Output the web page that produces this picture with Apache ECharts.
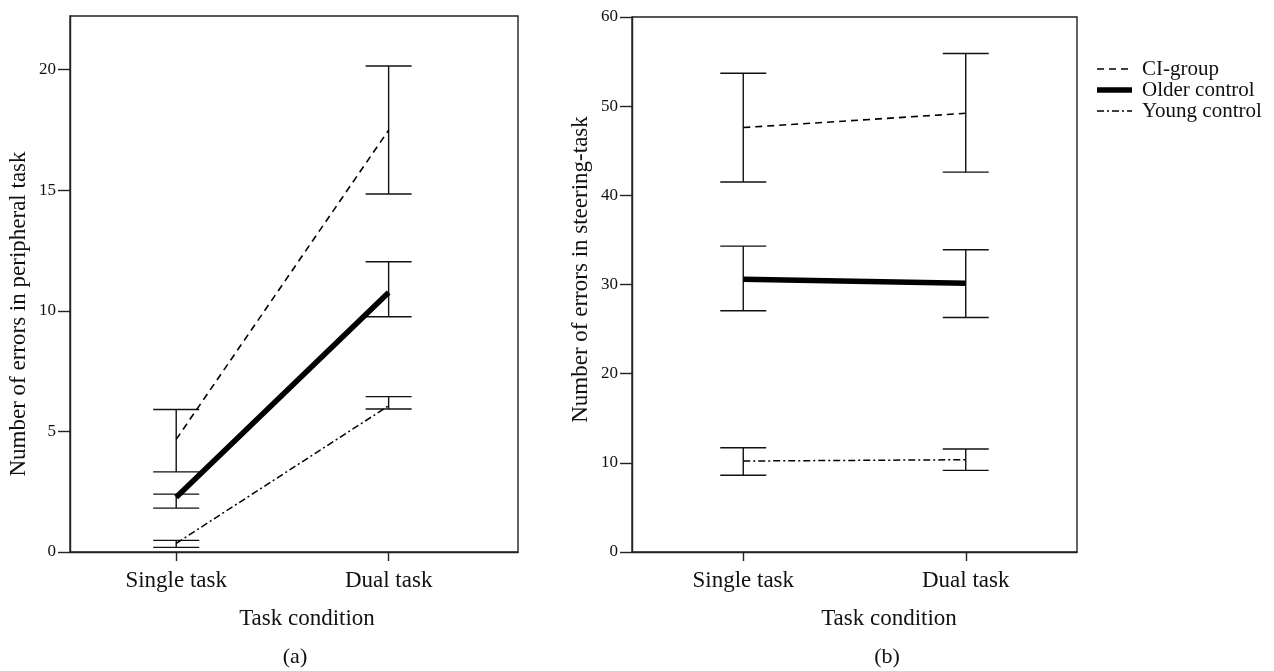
<!DOCTYPE html>
<html>
<head>
<meta charset="utf-8">
<script src="https://cdn.jsdelivr.net/npm/echarts@6/dist/echarts.min.js"></script>
<style>
html,body{margin:0;padding:0;background:#fff;}
#c{width:1274px;height:671px;}
</style>
</head>
<body>
<div id="c"></div>
<script>
const categories = ['Single task', 'Dual task'];
const groups = ['CI-group', 'Older control', 'Young control'];
const xPos = [1, 2];

// Panel (a): peripheral task errors
const aCIMean = [4.67, 17.49];
const aCIHigh = [5.91, 20.15];
const aCILow = [3.32, 14.84];
const aOlderMean = [2.27, 10.76];
const aOlderHigh = [2.40, 12.03];
const aOlderLow = [1.82, 9.75];
const aYoungMean = [0.36, 6.06];
const aYoungHigh = [0.48, 6.44];
const aYoungLow = [0.19, 5.93];
const aTicks = [0, 5, 10, 15, 20];

// Panel (b): steering task errors
const bCIMean = [47.6, 49.2];
const bCIHigh = [53.7, 55.9];
const bCILow = [41.5, 42.6];
const bOlderMean = [30.6, 30.15];
const bOlderHigh = [34.3, 33.9];
const bOlderLow = [27.05, 26.3];
const bYoungMean = [10.2, 10.35];
const bYoungHigh = [11.7, 11.55];
const bYoungLow = [8.6, 9.15];
const bTicks = [0, 10, 20, 30, 40, 50, 60];

const FONT = '"Liberation Serif", "Times New Roman", serif';
const AX = '#222';

const styles = {
  'CI-group': { width: 1.6, type: [7, 5] },
  'Older control': { width: 5.5, type: 'solid' },
  'Young control': { width: 1.5, type: [7, 3, 2, 3] }
};

function pts(means) { return xPos.map((x, i) => [x, means[i]]); }
function bars(lows, highs) { return xPos.map((x, i) => [x, lows[i], highs[i]]); }

function lineSeries(name, means, idx) {
  return {
    type: 'line', name: name, xAxisIndex: idx, yAxisIndex: idx,
    data: pts(means), symbol: 'none', silent: true, z: 3,
    lineStyle: { color: '#000', width: styles[name].width, type: styles[name].type, cap: 'butt' },
    itemStyle: { color: '#000' }
  };
}

function errSeries(lows, highs, idx) {
  return {
    type: 'custom', xAxisIndex: idx, yAxisIndex: idx, silent: true, z: 2,
    data: bars(lows, highs),
    renderItem: function (params, api) {
      const lo = api.coord([api.value(0), api.value(1)]);
      const hi = api.coord([api.value(0), api.value(2)]);
      const hw = 23;
      const st = { stroke: '#111', lineWidth: 1.4 };
      return {
        type: 'group',
        children: [
          { type: 'line', shape: { x1: lo[0], y1: lo[1], x2: hi[0], y2: hi[1] }, style: st },
          { type: 'line', shape: { x1: lo[0] - hw, y1: lo[1], x2: lo[0] + hw, y2: lo[1] }, style: st },
          { type: 'line', shape: { x1: hi[0] - hw, y1: hi[1], x2: hi[0] + hw, y2: hi[1] }, style: st }
        ]
      };
    }
  };
}

function xAxisDef(idx, max, namePad) {
  return {
    type: 'value', gridIndex: idx, min: 0.5, max: max,
    name: 'Task condition', nameLocation: 'middle', nameGap: 55,
    nameTextStyle: { fontFamily: FONT, fontSize: 23, color: '#111', padding: namePad },
    axisLine: { show: true, lineStyle: { color: AX, width: 1.4 } },
    axisTick: { show: true, customValues: xPos, length: 9, lineStyle: { color: AX, width: 1.4 } },
    axisLabel: {
      customValues: xPos, fontFamily: FONT, fontSize: 23, color: '#111', margin: 17,
      formatter: function (v) { return categories[Math.round(v) - 1] || ''; }
    },
    splitLine: { show: false }
  };
}

function yAxisDef(idx, max, ticks, name, interval, namePad) {
  return {
    type: 'value', gridIndex: idx, min: 0, max: max, interval: interval,
    name: name, nameLocation: 'middle', nameGap: 40,
    nameTextStyle: { fontFamily: FONT, fontSize: 23, color: '#111', padding: namePad },
    axisLine: { show: true, lineStyle: { color: AX, width: 1.4 } },
    axisTick: { show: true, customValues: ticks, length: 12, lineStyle: { color: AX, width: 1.4 } },
    axisLabel: { customValues: ticks, fontFamily: FONT, fontSize: 17, color: '#111', margin: 14 },
    splitLine: { show: false }
  };
}

// legend drawn as graphic elements (line samples + real text)
const legendTop = 69, legendStep = 21;
const legendGraphics = [];
groups.forEach(function (g, i) {
  const y = legendTop + i * legendStep;
  legendGraphics.push({
    type: 'line', shape: { x1: 1097, y1: y, x2: 1132, y2: y },
    style: { stroke: '#000', lineWidth: styles[g].width, lineDash: styles[g].type === 'solid' ? null : styles[g].type }
  });
  legendGraphics.push({
    type: 'text', x: 1142, y: y,
    style: { text: g, font: '21px ' + FONT, fill: '#111', verticalAlign: 'middle', align: 'left' }
  });
});

const chart = echarts.init(document.getElementById('c'), null, { renderer: 'canvas' });
chart.setOption({
  backgroundColor: '#fff',
  animation: false,
  textStyle: { fontFamily: FONT },
  grid: [
    { left: 70, top: 16, width: 448, height: 536, show: true, borderColor: AX, borderWidth: 1.4, backgroundColor: 'transparent' },
    { left: 632, top: 17, width: 445, height: 535, show: true, borderColor: AX, borderWidth: 1.4, backgroundColor: 'transparent' }
  ],
  xAxis: [xAxisDef(0, 2.609, [0, 0, 0, 26]), xAxisDef(1, 2.5, [0, 0, 0, 69])],
  yAxis: [
    yAxisDef(0, 22.22, aTicks, 'Number of errors in peripheral task', 5, [0, 60, 0, 0]),
    yAxisDef(1, 60, bTicks, 'Number of errors in steering-task', 10, [0, 0, 0, 30])
  ],
  graphic: legendGraphics.concat([
    { type: 'text', x: 295, y: 657, style: { text: '(a)', font: '22px ' + FONT, fill: '#111', align: 'center', verticalAlign: 'middle' } },
    { type: 'text', x: 887, y: 657, style: { text: '(b)', font: '22px ' + FONT, fill: '#111', align: 'center', verticalAlign: 'middle' } }
  ]),
  series: [
    errSeries(aCILow, aCIHigh, 0),
    errSeries(aOlderLow, aOlderHigh, 0),
    errSeries(aYoungLow, aYoungHigh, 0),
    lineSeries('CI-group', aCIMean, 0),
    lineSeries('Older control', aOlderMean, 0),
    lineSeries('Young control', aYoungMean, 0),
    errSeries(bCILow, bCIHigh, 1),
    errSeries(bOlderLow, bOlderHigh, 1),
    errSeries(bYoungLow, bYoungHigh, 1),
    lineSeries('CI-group', bCIMean, 1),
    lineSeries('Older control', bOlderMean, 1),
    lineSeries('Young control', bYoungMean, 1)
  ]
});
</script>
</body>
</html>
